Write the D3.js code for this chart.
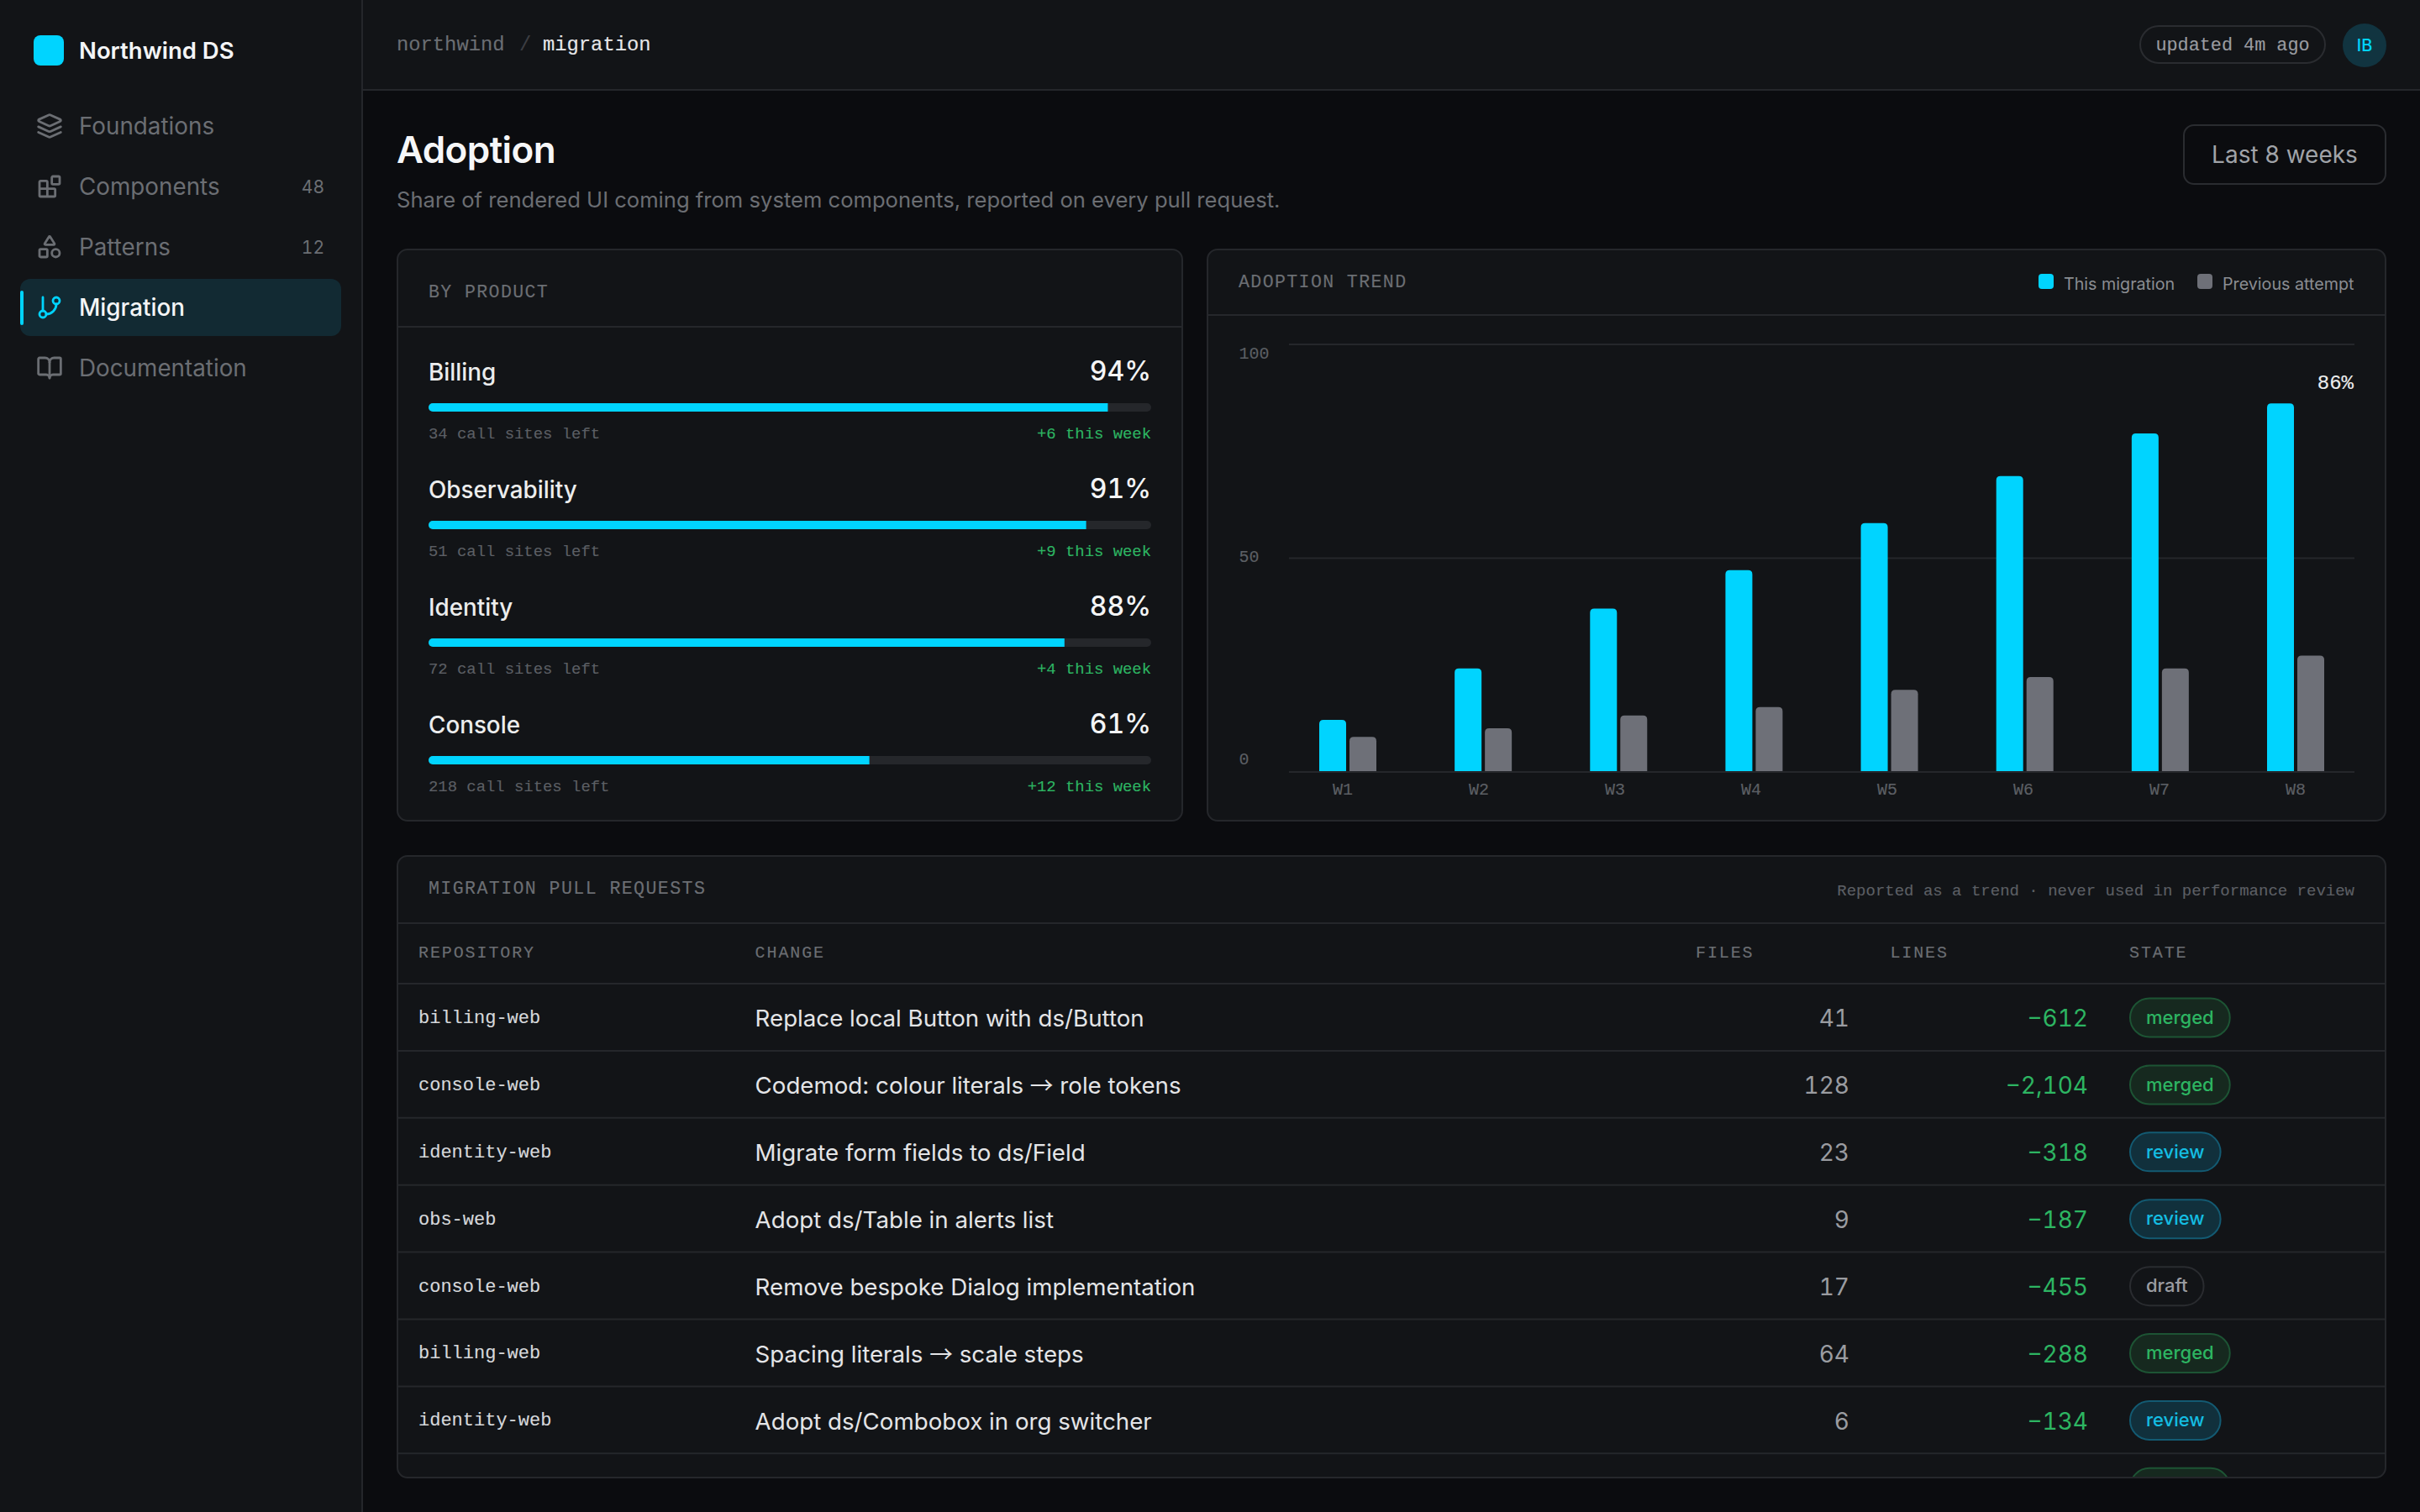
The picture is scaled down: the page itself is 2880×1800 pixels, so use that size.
<!DOCTYPE html>
<html>
<head>
<meta charset="utf-8">
<title>Adoption</title>
<script src="https://cdn.jsdelivr.net/npm/d3@7"></script>
<style>
	html, body { margin: 0; padding: 0; background: #0b0c0f; overflow: hidden; }
	svg { display: block; }
	text { font-family: Inter, sans-serif; }
	.mono { font-family: "Liberation Mono", monospace; }
	.tnum { font-variant-numeric: tabular-nums; }
</style>
</head>
<body>
<div id="dataviz"></div>
<script>
// nav
const navLabels = ["Foundations", "Components", "Patterns", "Migration", "Documentation"];
const navCounts = ["", "48", "12", "", ""];

// by product
const products = ["Billing", "Observability", "Identity", "Console"];
const productPct = [94, 91, 88, 61];
const sitesLeft = [34, 51, 72, 218];
const weekDelta = [6, 9, 4, 12];

// trend
const weeks = ["W1", "W2", "W3", "W4", "W5", "W6", "W7", "W8"];
const thisMigration = [12, 24, 38, 47, 58, 69, 79, 86];
const previousAttempt = [8, 10, 13, 15, 19, 22, 24, 27];
const yTicks = [0, 50, 100];

// pull requests (the last row is cut off by the card, only its badge shows)
const repos = ["billing-web", "console-web", "identity-web", "obs-web", "console-web", "billing-web", "identity-web", ""];
const changes = [
	"Replace local Button with ds/Button",
	"Codemod: colour literals → role tokens",
	"Migrate form fields to ds/Field",
	"Adopt ds/Table in alerts list",
	"Remove bespoke Dialog implementation",
	"Spacing literals → scale steps",
	"Adopt ds/Combobox in org switcher",
	""
];
const filesChanged = ["41", "128", "23", "9", "17", "64", "6", ""];
const linesChanged = ["−612", "−2,104", "−318", "−187", "−455", "−288", "−134", ""];
const states = ["merged", "merged", "review", "review", "draft", "merged", "review", "merged"];
const tableHead = ["REPOSITORY", "CHANGE", "FILES", "LINES", "STATE"];

const cyan = "#00d4ff";
const grey = "#6e7078";
const green = "#2db562";
const line = "#25272b";
const panel = "#121417";
const stateStyle = {
	merged: {fill: "#16291f", stroke: "#1d5434", text: "#2db562"},
	review: {fill: "#11303c", stroke: "#135a72", text: "#14bde2"},
	draft: {fill: "none", stroke: "#2a2c30", text: "#9a9ca1"}
};

var svg = d3.select("#dataviz")
	.append("svg")
	.attr("width", 2880)
	.attr("height", 1800)
	.attr("viewBox", "0 0 1440 900");

function label(g, x, y, txt, size, color, opts) {
	opts = opts || {};
	var t = g.append("text")
		.attr("x", x)
		.attr("y", y)
		.attr("class", opts.cls || null)
		.attr("text-anchor", opts.anchor || "start")
		.attr("font-size", size)
		.attr("font-weight", opts.weight || 400)
		.attr("letter-spacing", opts.ls || null)
		.attr("fill", color)
		.text(txt);
	// the mono face here is thinner than the one in the picture
	if (opts.cls === "mono") {
		t.attr("stroke", color).attr("stroke-width", 0.07);
	}
	return t;
}

function card(x0, y0, x1, y1) {
	svg.append("rect")
		.attr("x", x0).attr("y", y0)
		.attr("width", x1 - x0).attr("height", y1 - y0)
		.attr("rx", 6)
		.attr("fill", panel)
		.attr("stroke", line);
}

function hline(g, x0, x1, y, color) {
	g.append("line")
		.attr("x1", x0).attr("x2", x1)
		.attr("y1", y).attr("y2", y)
		.attr("stroke", color || line);
}

// ---- shell
svg.append("rect").attr("width", 1440).attr("height", 900).attr("fill", "#0b0c0f");
svg.append("rect").attr("width", 216).attr("height", 900).attr("fill", panel);
svg.append("rect").attr("x", 216).attr("width", 1224).attr("height", 53.5).attr("fill", panel);
svg.append("line").attr("x1", 215.5).attr("x2", 215.5).attr("y1", 0).attr("y2", 900).attr("stroke", line);
hline(svg, 216, 1440, 53.5);

// ---- sidebar
svg.append("rect").attr("x", 20).attr("y", 21).attr("width", 18).attr("height", 18).attr("rx", 4).attr("fill", cyan);
label(svg, 47, 35, "Northwind DS", 13.75, "#f4f5f6", {weight: 600});

// lucide style icons, 24 unit box
const navIcons = [
	{paths: ["m12.83 2.18a2 2 0 0 0-1.66 0L2.6 6.08a1 1 0 0 0 0 1.83l8.58 3.91a2 2 0 0 0 1.66 0l8.58-3.9a1 1 0 0 0 0-1.83Z", "m22 17.65-9.17 4.16a2 2 0 0 1-1.66 0L2 17.65", "m22 12.65-9.17 4.16a2 2 0 0 1-1.66 0L2 12.65"]},
	{paths: ["M14 4a1 1 0 0 1 1-1h5a1 1 0 0 1 1 1v5a1 1 0 0 1-1 1h-5a1 1 0 0 1-1-1z", "M10 21V8a1 1 0 0 0-1-1H4a1 1 0 0 0-1 1v12a1 1 0 0 0 1 1h12a1 1 0 0 0 1-1v-5a1 1 0 0 0-1-1H3"]},
	{paths: ["M8.3 10a.7.7 0 0 1-.626-1.079L11.4 3a.7.7 0 0 1 1.198-.043L16.3 8.9a.7.7 0 0 1-.572 1.1Z", "M4 14h5a1 1 0 0 1 1 1v5a1 1 0 0 1-1 1H4a1 1 0 0 1-1-1v-5a1 1 0 0 1 1-1z", "M21 17.5a3.5 3.5 0 1 1-7 0 3.5 3.5 0 0 1 7 0z"]},
	{paths: ["M6 3v12", "M21 6a3 3 0 1 1-6 0 3 3 0 0 1 6 0z", "M9 18a3 3 0 1 1-6 0 3 3 0 0 1 6 0z", "M18 9a9 9 0 0 1-9 9"]},
	{paths: ["M12 7v14", "M3 18a1 1 0 0 1-1-1V4a1 1 0 0 1 1-1h5a4 4 0 0 1 4 4 4 4 0 0 1 4-4h5a1 1 0 0 1 1 1v13a1 1 0 0 1-1 1h-6a3 3 0 0 0-3 3 3 3 0 0 0-3-3z"]}
];

var navY = d3.scalePoint().domain(navLabels).range([75, 219]);
svg.append("rect").attr("x", 12).attr("y", 166).attr("width", 191).attr("height", 34).attr("rx", 6).attr("fill", "#122a33");
svg.append("rect").attr("x", 12).attr("y", 173).attr("width", 2).attr("height", 20.5).attr("rx", 1).attr("fill", cyan);
navLabels.forEach(function(d, i) {
	var active = d === "Migration";
	var c = active ? cyan : "#6b6e73";
	var icon = svg.append("g")
		.attr("transform", "translate(21.5," + (navY(d) - 8) + ") scale(" + (16 / 24) + ")")
		.attr("fill", "none")
		.attr("stroke", c)
		.attr("stroke-width", 2.1)
		.attr("stroke-linecap", "round")
		.attr("stroke-linejoin", "round");
	navIcons[i].paths.forEach(function(p) { icon.append("path").attr("d", p); });
	label(svg, 47, navY(d) + 5, d, 13.9, active ? "#f4f5f6" : "#6b6e73", {weight: active ? 500 : 400});
	if (navCounts[i]) {
		label(svg, 193, navY(d) + 3.8, navCounts[i], 10.5, "#6b6e73", {anchor: "end", cls: "tnum"});
	}
});

// ---- top bar
label(svg, 236, 30.2, "northwind", 11.9, "#6b6e73", {cls: "mono"});
label(svg, 309, 30.2, "/", 11.9, "#3c3e43", {cls: "mono"});
label(svg, 323, 30.2, "migration", 11.9, "#e6e7e9", {cls: "mono"});
svg.append("rect").attr("x", 1273.5).attr("y", 15.5).attr("width", 110).attr("height", 22).attr("rx", 11)
	.attr("fill", "none").attr("stroke", "#2a2c30");
label(svg, 1328.5, 30.2, "updated 4m ago", 10.9, "#9a9ca1", {cls: "mono", anchor: "middle"});
svg.append("circle").attr("cx", 1407).attr("cy", 27).attr("r", 13).attr("fill", "#113440");
label(svg, 1407, 30.6, "IB", 10, cyan, {anchor: "middle", weight: 500});

// ---- page head
label(svg, 236, 97, "Adoption", 22, "#f6f7f8", {weight: 600, ls: -0.3});
label(svg, 236, 123.3, "Share of rendered UI coming from system components, reported on every pull request.", 12.8, "#6b6e73");
svg.append("rect").attr("x", 1299.5).attr("y", 74.5).attr("width", 120).attr("height", 35).attr("rx", 6)
	.attr("fill", "none").attr("stroke", "#2a2c30");
label(svg, 1359.5, 97, "Last 8 weeks", 14, "#a0a3a8", {anchor: "middle", weight: 400});

// ---- by product
card(236.5, 148.5, 703.5, 488.5);
hline(svg, 237, 703, 194.5);
label(svg, 255, 177.2, "BY PRODUCT", 10.8, "#6b6e73", {cls: "mono", ls: 0.68});

var barX = d3.scaleLinear().domain([0, 100]).range([255, 685]);
var rowY = d3.scalePoint().domain(products).range([0, 210]);
var defs = svg.append("defs");
products.forEach(function(d, i) {
	var top = rowY(d);
	label(svg, 255, top + 226.3, d, 13.9, "#eceded", {weight: 500});
	label(svg, 685, top + 226.3, productPct[i] + "%", 16, "#f4f5f6", {anchor: "end", weight: 500, cls: "tnum"});
	defs.append("clipPath").attr("id", "track" + i)
		.append("rect")
		.attr("x", barX(0)).attr("y", top + 240)
		.attr("width", barX(100) - barX(0)).attr("height", 5).attr("rx", 2.5);
	svg.append("rect")
		.attr("x", barX(0)).attr("y", top + 240)
		.attr("width", barX(100) - barX(0)).attr("height", 5).attr("rx", 2.5)
		.attr("fill", "#25272b");
	svg.append("rect")
		.attr("clip-path", "url(#track" + i + ")")
		.attr("x", barX(0)).attr("y", top + 240)
		.attr("width", barX(productPct[i]) - barX(0)).attr("height", 5)
		.attr("fill", cyan);
	label(svg, 255, top + 261, sitesLeft[i] + " call sites left", 9.45, "#5c5f64", {cls: "mono"});
	label(svg, 685, top + 261, "+" + weekDelta[i] + " this week", 9.45, green, {cls: "mono", anchor: "end"});
});

// ---- trend
card(718.5, 148.5, 1419.5, 488.5);
hline(svg, 719, 1419, 187.5);
label(svg, 737, 171.2, "ADOPTION TREND", 10.8, "#6b6e73", {cls: "mono", ls: 0.68});

const legend = [
	{name: "This migration", color: cyan, x: 1213},
	{name: "Previous attempt", color: grey, x: 1307.5}
];
legend.forEach(function(d) {
	svg.append("rect").attr("x", d.x).attr("y", 163).attr("width", 9).attr("height", 9).attr("rx", 2).attr("fill", d.color);
	label(svg, d.x + 15, 172.3, d.name, 9.85, "#8a8d92");
});

var y = d3.scaleLinear().domain([0, 100]).range([459, 204.5]);
var yLabel = d3.scaleLinear().domain([0, 100]).range([454.9, 213.6]);
var xGroup = d3.scalePoint().domain(weeks).range([802, 1366]);
var xLabel = d3.scalePoint().domain(weeks).range([798.5, 1365.5]);

// gridlines and baseline
var grid = svg.append("g")
	.attr("transform", "translate(767,0)")
	.call(d3.axisLeft(y).tickValues(yTicks).tickSize(-634).tickFormat(""));
grid.select(".domain").remove();
grid.selectAll(".tick line").attr("stroke", line);

// y labels sit on their own scale, they are spread out rather than on the lines
svg.selectAll("text.ylab")
	.data(yTicks)
	.enter().append("text")
	.attr("class", "ylab mono")
	.attr("x", 737.3)
	.attr("y", function(d) { return yLabel(d); })
	.attr("font-size", 10)
	.attr("fill", "#5c5f64")
	.attr("stroke", "#5c5f64")
	.attr("stroke-width", 0.07)
	.text(function(d) { return d; });

function topRounded(x0, w, y0, y1, r) {
	return "M" + x0 + "," + y1 + "V" + (y0 + r) + "Q" + x0 + "," + y0 + " " + (x0 + r) + "," + y0 +
		"H" + (x0 + w - r) + "Q" + (x0 + w) + "," + y0 + " " + (x0 + w) + "," + (y0 + r) + "V" + y1 + "Z";
}

svg.selectAll("path.now")
	.data(weeks)
	.enter().append("path")
	.attr("class", "now")
	.attr("fill", cyan)
	.attr("d", function(d, i) { return topRounded(xGroup(d) - 17, 16, y(thisMigration[i]), y(0), 2.5); });

svg.selectAll("path.prev")
	.data(weeks)
	.enter().append("path")
	.attr("class", "prev")
	.attr("fill", grey)
	.attr("d", function(d, i) { return topRounded(xGroup(d) + 1, 16, y(previousAttempt[i]), y(0), 2.5); });

var xAxis = svg.append("g")
	.attr("transform", "translate(0,459)")
	.call(d3.axisBottom(xLabel).tickSize(0).tickPadding(6.9));
xAxis.select(".domain").remove();
xAxis.selectAll("text")
	.attr("font-size", 10)
	.style("font-family", "Liberation Mono")
	.attr("fill", "#5c5f64")
	.attr("stroke", "#5c5f64")
	.attr("stroke-width", 0.07);

label(svg, 1400.5, 231.3, thisMigration[7] + "%", 12, "#eceded", {cls: "mono", anchor: "end"});

// ---- pull requests
card(236.5, 509.5, 1419.5, 879.5);
hline(svg, 237, 1419, 549.5);
hline(svg, 237, 1419, 585.5);
label(svg, 255, 532.2, "MIGRATION PULL REQUESTS", 10.8, "#6b6e73", {cls: "mono", ls: 0.7});
label(svg, 1401, 533, "Reported as a trend · never used in performance review", 9.5, "#5c5f64", {cls: "mono", anchor: "end"});

const headX = [249, 449.3, 1009, 1124.7, 1267];
tableHead.forEach(function(d, i) {
	label(svg, headX[i], 570, d, 10, "#6b6e73", {cls: "mono", ls: 0.95});
});

defs.append("clipPath").attr("id", "tableClip")
	.append("rect").attr("x", 237).attr("y", 586).attr("width", 1182).attr("height", 293);
var body = svg.append("g").attr("clip-path", "url(#tableClip)");
var tableY = d3.scaleBand().domain(d3.range(states.length)).range([585.5, 905.1]);

states.forEach(function(st, i) {
	var t = tableY(i);
	var mid = t + tableY.bandwidth() / 2;
	hline(body, 237, 1419, t + tableY.bandwidth());
	label(body, 249, mid + 3.5, repos[i], 11, "#d6d8db", {cls: "mono"});
	// arrow comes from a fallback face, it is longer than the Inter one
	var ch = label(body, 449.3, mid + 5.7, "", 13.85, "#e4e5e7");
	changes[i].split(/(→)/).forEach(function(part) {
		var sp = ch.append("tspan").text(part);
		if (part === "→") sp.style("font-family", "Noto Sans CJK SC");
	});
	label(body, 1100.5, mid + 5.7, filesChanged[i], 14, "#9a9ca1", {anchor: "end", cls: "tnum"});
	label(body, 1242.5, mid + 5.7, linesChanged[i], 14, green, {anchor: "end", cls: "tnum"});
	var s = stateStyle[st];
	var pill = body.append("rect")
		.attr("x", 1267.5).attr("y", mid - 11.2)
		.attr("height", 23).attr("rx", 11.5)
		.attr("fill", s.fill).attr("stroke", s.stroke);
	var txt = label(body, 1277, mid + 3.9, st, 11, s.text, {weight: 500});
	pill.attr("width", txt.node().getComputedTextLength() + 19);
});
</script>
</body>
</html>
